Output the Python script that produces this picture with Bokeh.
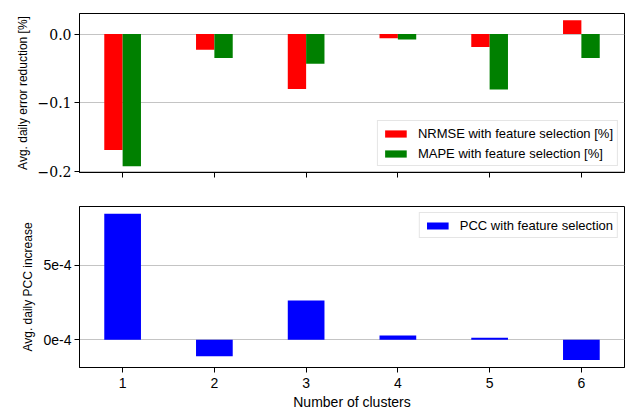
from bokeh.plotting import figure
from bokeh.layouts import column
from bokeh.models import Range1d, FixedTicker, CustomJSTickFormatter, ColumnDataSource
from bokeh.transform import dodge
from bokeh.embed import file_html
from bokeh.resources import INLINE

clusters = [1, 2, 3, 4, 5, 6]
nrmse = [-0.169, -0.023, -0.080, -0.006, -0.019, 0.020]
mape = [-0.193, -0.035, -0.0435, -0.008, -0.081, -0.035]
pcc = [8.48e-4, -1.12e-4, 2.64e-4, 0.29e-4, 0.13e-4, -1.37e-4]

SANS = "Liberation Sans"
SERIF = "DejaVu Serif"

src = ColumnDataSource(dict(x=clusters, nrmse=nrmse, mape=mape, pcc=pcc))


def style(p):
    p.toolbar.logo = None
    p.outline_line_color = "black"
    p.outline_line_width = 1
    p.xgrid.grid_line_color = None
    p.ygrid.grid_line_color = "#c4c4c4"
    p.ygrid.grid_line_width = 1
    for ax in (p.xaxis[0], p.yaxis[0]):
        ax.axis_line_color = "black"
        ax.major_tick_line_color = "black"
        ax.major_tick_out = 5
        ax.major_tick_in = 0
        ax.minor_tick_line_color = None
        ax.major_label_text_color = "black"
        ax.axis_label_text_color = "black"
        ax.axis_label_text_font_style = "normal"
        ax.axis_label_text_font = SANS
        ax.major_label_standoff = 3
    p.yaxis.axis_label_text_font_size = "12px"
    p.yaxis.axis_label_standoff = 5
    p.xaxis.ticker = FixedTicker(ticks=clusters)


# ---------- top ----------
p1 = figure(width=632, height=190, output_backend="svg", toolbar_location=None,
            x_range=Range1d(0.53, 6.47), y_range=Range1d(-0.202, 0.03),
            min_border_left=79, min_border_right=8, min_border_top=13, min_border_bottom=18)
style(p1)
p1.vbar(x=dodge("x", -0.1), top="nrmse", bottom=0, width=0.2, source=src,
        fill_color="#ff0000", line_color=None, legend_label="NRMSE with feature selection [%]")
p1.vbar(x=dodge("x", 0.1), top="mape", bottom=0, width=0.2, source=src,
        fill_color="#008000", line_color=None, legend_label="MAPE with feature selection [%]")
p1.yaxis.ticker = FixedTicker(ticks=[-0.2, -0.1, 0.0])
p1.yaxis.formatter = CustomJSTickFormatter(code="return tick.toFixed(1).replace('-', '\u2212');")
p1.yaxis.major_label_text_font = SERIF
p1.yaxis.major_label_text_font_size = "14px"
p1.yaxis.axis_label = "Avg. daily error reduction [%]"
p1.xaxis.major_label_text_color = None
p1.xaxis.major_label_text_font_size = "1px"
p1.xaxis.major_label_standoff = 0

# ---------- bottom ----------
p2 = figure(width=632, height=225, output_backend="svg", toolbar_location=None,
            x_range=p1.x_range, y_range=Range1d(-1.87e-4, 8.97e-4),
            min_border_left=79, min_border_right=8, min_border_top=16, min_border_bottom=48)
style(p2)
p2.vbar(x="x", top="pcc", bottom=0, width=0.4, source=src,
        fill_color="#0000ff", line_color=None, legend_label="PCC with feature selection")
p2.yaxis.ticker = FixedTicker(ticks=[0, 5e-4])
p2.yaxis.formatter = CustomJSTickFormatter(code="return (tick*1e4).toFixed(0) + 'e-4';")
p2.yaxis.major_label_text_font = SANS
p2.yaxis.major_label_text_font_size = "14px"
p2.yaxis.axis_label = "Avg. daily PCC increase"
p2.xaxis.major_label_text_font = SANS
p2.xaxis.major_label_text_font_size = "14px"
p2.xaxis.major_label_standoff = 5
p2.xaxis.axis_label = "Number of clusters"
p2.xaxis.axis_label_text_font_size = "14px"
p2.xaxis.axis_label_standoff = 3

for p, loc in ((p1, "bottom_right"), (p2, "top_right")):
    lg = p.legend[0]
    lg.location = loc
    lg.margin = 6
    lg.padding = 4
    lg.spacing = 4
    lg.label_height = 16
    lg.glyph_height = 9
    lg.glyph_width = 27
    lg.label_standoff = 9
    lg.label_text_font = SANS
    lg.label_text_font_size = "13px"
    lg.label_text_color = "black"
    lg.border_line_color = "#cccccc"
    lg.border_line_width = 1
    lg.background_fill_alpha = 0.8

layout = column(p1, p2, spacing=0)
open("out.html", "w").write(file_html(layout, INLINE))
